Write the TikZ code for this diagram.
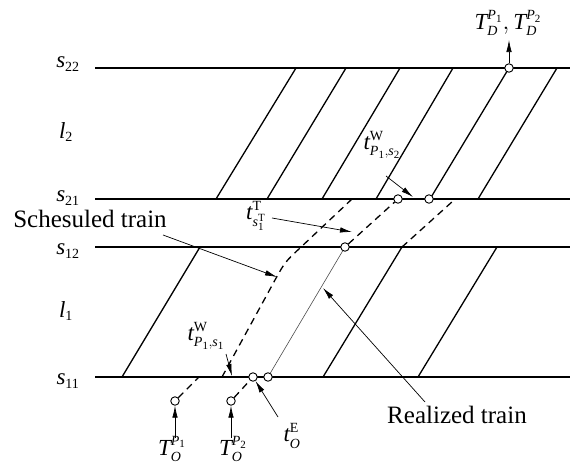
\documentclass[tikz,border=0pt]{standalone}
\usepackage{amsmath}
\usepackage{fontspec}
\setmainfont{Liberation Serif}
\DeclareMathSizes{23}{23}{14}{11}
\DeclareMathSizes{25}{25}{15}{12}
\usetikzlibrary{arrows.meta}
\newcommand{\mi}[1]{\textit{#1}}
\newcommand{\up}[1]{\text{#1}}
\begin{document}
\begin{tikzpicture}[x=1pt,y=-1pt,
  hline/.style={line width=2pt},
  diag/.style={line width=1.3pt},
  dashline/.style={line width=1.3pt, dash pattern=on 7pt off 5pt},
  realline/.style={line width=0.6pt, black!70},
  dot/.style={circle, draw, fill=white, inner sep=0pt, minimum size=8.5pt, line width=0.9pt},
  arr/.style={-{Latex[length=12pt,width=5.5pt]}, line width=0.7pt},
  lbl/.style={inner sep=0pt, font=\fontsize{23}{25}\selectfont},
  tlbl/.style={inner sep=0pt, font=\fontsize{25}{27}\selectfont}]
\useasboundingbox (0,0) rectangle (570,463);

% horizontal lines
\coordinate (a22) at (95,68);  \coordinate (b22) at (570,68);
\coordinate (a21) at (95,199); \coordinate (b21) at (570,199);
\coordinate (a12) at (95,247); \coordinate (b12) at (570,247);
\coordinate (a11) at (95,377); \coordinate (b11) at (570,377);
\draw[hline] (a22) -- (b22);
\draw[hline] (a21) -- (b21);
\draw[hline] (a12) -- (b12);
\draw[hline] (a11) -- (b11);

% row labels
\node[lbl] (ls22) at (68,64)  {$\mi{s}_{\up{22}}$};
\node[lbl] (ll2)  at (66,132) {$\mi{l}_{\up{2}}$};
\node[lbl] (ls21) at (68,198) {$\mi{s}_{\up{21}}$};
\node[lbl] (ls12) at (68,251) {$\mi{s}_{\up{12}}$};
\node[lbl] (ll1)  at (66,311) {$\mi{l}_{\up{1}}$};
\node[lbl] (ls11) at (68,381) {$\mi{s}_{\up{11}}$};

% top band trains
\foreach \b/\t in {216/296, 267/346, 322/400, 376/453, 430/509, 478/557}
  \draw[diag] (\b,199) -- (\t,68);
% lower band trains
\foreach \b/\t in {122/200, 323/402, 418/497}
  \draw[diag] (\b,377) -- (\t,247);

% scheduled train (dashed)
\node[dot] (o1) at (175,401) {};
\coordinate (w1) at (199,377);
\coordinate (w2) at (222,377);
\draw[dashline] (o1) -- (w1);
\draw[dashline] (w2) -- (275,280) .. controls (285,262) .. (300,248) -- (352,199);

% third dashed
\draw[dashline] (402,247) -- (453,201);

% realized train
\node[dot] (o2) at (231,401) {};
\node[dot] (e1) at (253,377) {};
\node[dot] (e2) at (268,377) {};
\node[dot] (m1) at (345,247) {};
\node[dot] (m2) at (398,199) {};
\node[dot] (m3) at (429,199) {};
\node[dot] (d1) at (509,68) {};
\draw[dashline] (o2) -- (e1);
\draw[realline] (e2) -- (m1);
\draw[dashline] (m1) -- (m2);

% labels
\node[lbl] (TD) at (508,23) {$\mi{T}^{\mi{P}_{\up{1}}}_{\mi{D}},\mi{T}^{\mi{P}_{\up{2}}}_{\mi{D}}$};
\coordinate (TDa) at (509,40);
\draw[arr] (d1) -- (TDa);

\node[lbl] (tw2) at (382,145) {$\mi{t}^{\up{W}}_{\mi{P}_{\up{1}},\mi{s}_{\up{2}}}$};
\coordinate (tw2s) at (386,176); \coordinate (tw2e) at (413,197);
\draw[arr] (tw2s) -- (tw2e);

\node[lbl] (tT) at (256,216) {$\mi{t}^{\up{T}}_{\mi{s}^{\up{T}}_{\up{1}}}$};
\coordinate (tTs) at (272,218); \coordinate (tTe) at (352,232);
\draw[arr] (tTs) -- (tTe);

\node[tlbl, anchor=base] (sched) at (90,227) {Schesuled train};
\coordinate (schs) at (163,235); \coordinate (sche) at (277,277);
\draw[arr] (schs) -- (sche);

\node[lbl] (tw1) at (206,336) {$\mi{t}^{\up{W}}_{\mi{P}_{\up{1}},\mi{s}_{\up{1}}}$};
\coordinate (tw1s) at (226,354); \coordinate (tw1e) at (232,376);
\draw[arr] (tw1s) -- (tw1e);

\node[lbl] (tE) at (292,436) {$\mi{t}^{\up{E}}_{\mi{O}}$};
\coordinate (tEs) at (278,417);
\draw[arr] (tEs) -- (e1);

\node[tlbl, anchor=base] (real) at (457,423) {Realized train};
\coordinate (rls) at (425,402); \coordinate (rle) at (323,288);
\draw[arr] (rls) -- (rle);

\node[lbl] (TO1) at (172,449) {$\mi{T}^{\mi{P}_{\up{1}}}_{\mi{O}}$};
\node[lbl] (TO2) at (233,449) {$\mi{T}^{\mi{P}_{\up{2}}}_{\mi{O}}$};
\coordinate (TO1s) at (175,438); \coordinate (TO2s) at (231,438);
\draw[arr] (TO1s) -- (o1);
\draw[arr] (TO2s) -- (o2);
\end{tikzpicture}
\end{document}
